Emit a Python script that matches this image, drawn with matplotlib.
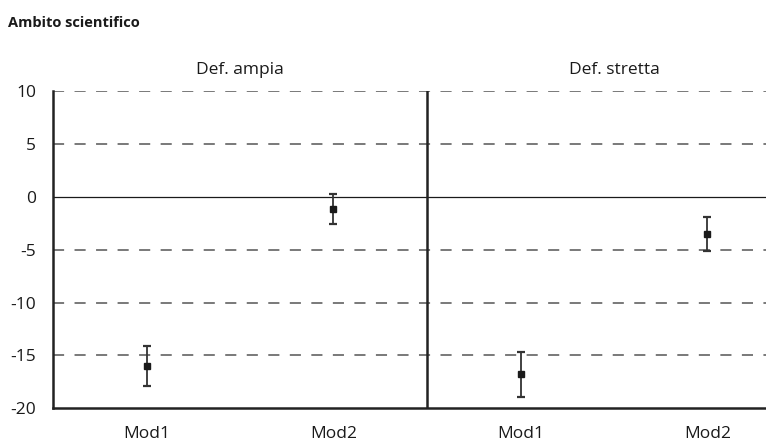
import numpy as np
import matplotlib
matplotlib.use("Agg")
import matplotlib.pyplot as plt

plt.rcParams['font.family'] = ['Open Sans', 'DejaVu Sans']
plt.rcParams['axes.unicode_minus'] = False

# data
title = "Ambito scientifico"
panels = ["Def. ampia", "Def. stretta"]
models = ["Mod1", "Mod2", "Mod1", "Mod2"]
estimates = [-16.0, -1.15, -16.8, -3.55]
errors = [1.9, 1.45, 2.1, 1.6]
y_ticks = [10, 5, 0, -5, -10, -15, -20]

fig = plt.figure(figsize=(7.66, 4.44), dpi=100)
ax = fig.add_axes([53 / 766, (444 - 408.3) / 444, 713 / 766, 317.3 / 444])

x = np.arange(len(models)) + 0.5
slot_px = 187.0

# dashed gridlines, solid zero line
for yv in y_ticks:
    if yv == 0:
        ax.axhline(0, color='#1a1a1a', lw=0.9, zorder=1)
    elif yv > -20:
        ax.axhline(yv, color='#555555', lw=1.1, zorder=1,
                   linestyle=(0, (8 / 1.1, 7.5 / 1.1)))

ax.errorbar(x, estimates, yerr=errors, fmt='s', color='#1a1a1a',
            ecolor='#333333', elinewidth=1.3, capsize=3.2, capthick=1.6,
            markersize=5, zorder=3)

# divider between the two panels
ax.axvline(2, color='#222222', lw=1.8, zorder=2)

ax.set_ylim(-20, 10)
ax.set_xlim(0, 713 / slot_px)
ax.set_yticks(y_ticks)
ax.set_yticklabels([str(v) for v in y_ticks])
ax.set_xticks(x)
ax.set_xticklabels(models)
ax.tick_params(axis='y', length=0, pad=12, labelsize=12.5, colors='#1a1a1a')
ax.tick_params(axis='x', length=0, pad=13, labelsize=12.5, colors='#1a1a1a')

for side in ['top', 'right']:
    ax.spines[side].set_visible(False)
for side in ['left', 'bottom']:
    ax.spines[side].set_linewidth(1.8)
    ax.spines[side].set_color('#222222')

# panel labels
ax.text(1.0, 10 + 1.6, panels[0], ha='center', va='baseline', fontsize=12.5,
        color='#1a1a1a', clip_on=False)
ax.text(3.0, 10 + 1.6, panels[1], ha='center', va='baseline', fontsize=12.5,
        color='#1a1a1a', clip_on=False)

fig.text(8 / 766, 1 - 27 / 444, title, ha='left', va='baseline',
         fontsize=10.5, fontweight='bold', color='#1a1a1a')

fig.savefig("out.png", dpi=100)
